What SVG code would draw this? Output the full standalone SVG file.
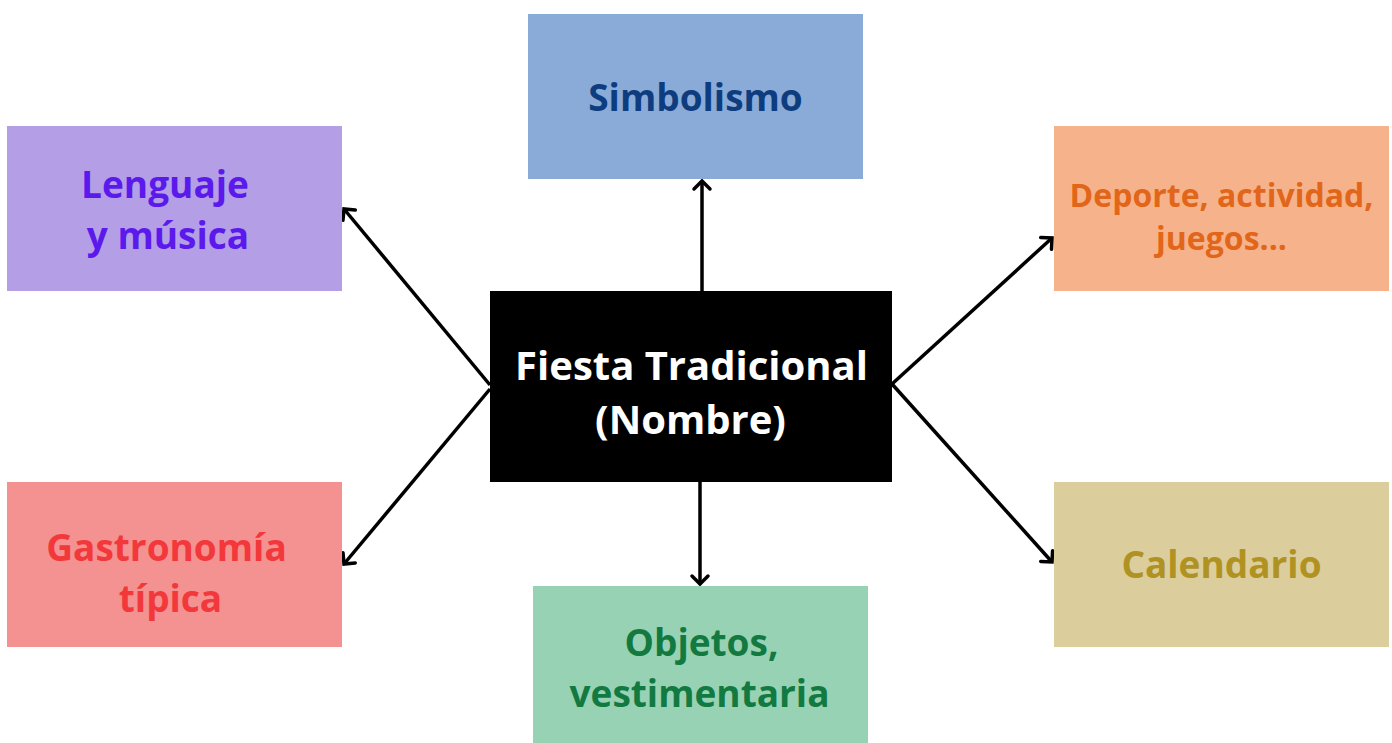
<svg xmlns="http://www.w3.org/2000/svg" width="1392" height="743" viewBox="0 0 1392 743">
<style>
text{font-family:"Open Sans","Liberation Sans",sans-serif;font-weight:700;text-anchor:middle}
.l{font-size:37px}
.c{font-size:40px;fill:#ffffff}
.s{font-size:32px}
.conn line{stroke:#000;stroke-width:3.5;fill:none;marker-end:url(#ah)}
</style>
<defs>
<marker id="ah" markerUnits="userSpaceOnUse" viewBox="-12 -12 14 24" markerWidth="14" markerHeight="24" refX="0" refY="0" orient="auto" overflow="visible">
<path d="M-8,-8 L0,0 L-8,8" fill="none" stroke="#000" stroke-width="3.5" stroke-linecap="round" stroke-linejoin="miter"/>
</marker>
</defs>
<rect width="1392" height="743" fill="#ffffff"/>
<g class="conn">
<line x1="702" y1="291" x2="702" y2="181"/>
<line x1="700" y1="482" x2="700" y2="584"/>
<line x1="490" y1="385" x2="344" y2="209"/>
<line x1="490" y1="389" x2="344" y2="564"/>
<line x1="892" y1="384" x2="1052" y2="238"/>
<line x1="892" y1="384" x2="1052" y2="562"/>
</g>
<g id="simbolismo">
<rect x="528" y="14" width="335" height="165" fill="#8AABD8"/>
<text x="695.5" y="111" fill="#0E3D7F" style="font-size:37px">Simbolismo</text>
</g>
<g id="lenguaje">
<rect x="7" y="126" width="335" height="165" fill="#B49FE6"/>
<text class="l" fill="#5B1AEB"><tspan x="165" y="198">Lenguaje</tspan><tspan x="168" y="249">y música</tspan></text>
</g>
<g id="deporte">
<rect x="1054" y="126" width="335" height="165" fill="#F6B38B"/>
<text class="s" fill="#E2661A"><tspan x="1221.5" y="207">Deporte, actividad,</tspan><tspan x="1221.5" y="250">juegos...</tspan></text>
</g>
<g id="fiesta">
<rect x="490" y="291" width="402" height="191" fill="#000000"/>
<text class="c"><tspan x="691.5" y="380">Fiesta Tradicional</tspan><tspan x="690.5" y="434">(Nombre)</tspan></text>
</g>
<g id="gastronomia">
<rect x="7" y="482" width="335" height="165" fill="#F49191"/>
<text class="l" fill="#F2383A"><tspan x="166.5" y="561">Gastronomía</tspan><tspan x="170.5" y="612">típica</tspan></text>
</g>
<g id="objetos">
<rect x="533" y="586" width="335" height="157" fill="#98D2B5"/>
<text class="l" fill="#127A40"><tspan x="701.5" y="656">Objetos,</tspan><tspan x="699.5" y="707">vestimentaria</tspan></text>
</g>
<g id="calendario">
<rect x="1054" y="482" width="335" height="165" fill="#DBCD9C"/>
<text class="l" fill="#B09222"><tspan x="1221.5" y="578">Calendario</tspan></text>
</g>
</svg>
